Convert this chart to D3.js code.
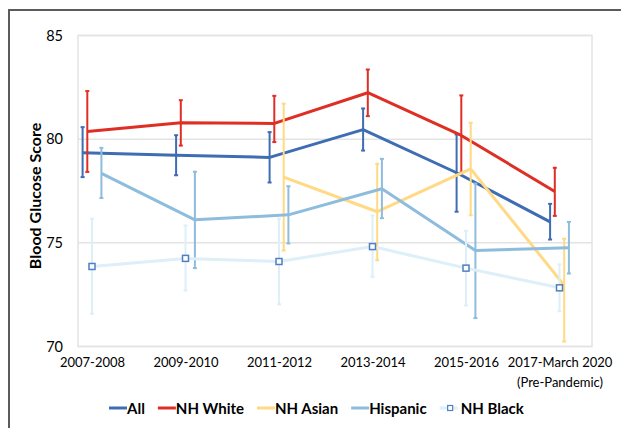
<!DOCTYPE html>
<html>
<head>
<meta charset="utf-8">
<script src="https://cdn.jsdelivr.net/npm/d3@7"></script>
<style>
  body { margin: 0; background: #fff; }
  text { font-family: Lato, "Open Sans", sans-serif; fill: #000; }
</style>
</head>
<body>
<div id="chart"></div>
<script>
// categories (second line of a label after "|")
var categories = ["2007-2008", "2009-2010", "2011-2012", "2013-2014", "2015-2016", "2017-March 2020|(Pre-Pandemic)"];
var yTicks = [70, 75, 80, 85];

// mean score and error-bar range per series
var allMean = [79.34, 79.23, 79.12, 80.46, 78.38, 76.01];
var allLow = [78.17, 78.26, 77.91, 79.45, 76.50, 75.16];
var allHigh = [80.58, 80.19, 80.34, 81.48, 80.23, 76.88];

var whiteMean = [80.37, 80.79, 80.76, 82.24, 80.18, 77.48];
var whiteLow = [78.42, 79.69, 79.86, 81.11, 78.38, 76.30];
var whiteHigh = [82.32, 81.88, 82.09, 83.36, 82.11, 78.62];

var asianMean = [null, null, 78.17, 76.50, 78.57, 72.95];
var asianLow = [null, null, 74.63, 74.16, 76.33, 70.24];
var asianHigh = [null, null, 81.71, 78.81, 80.79, 75.20];

var hispMean = [78.35, 76.11, 76.35, 77.61, 74.63, 74.76];
var hispLow = [77.16, 73.78, 74.97, 76.19, 71.37, 73.52];
var hispHigh = [79.58, 78.43, 77.73, 79.05, 77.86, 76.01];

var blackMean = [73.86, 74.25, 74.10, 74.82, 73.78, 72.83];
var blackLow = [71.58, 72.70, 72.03, 73.36, 71.98, 71.70];
var blackHigh = [76.16, 75.84, 76.17, 76.32, 75.58, 73.96];

var seriesNames = ["All", "NH White", "NH Asian", "Hispanic", "NH Black"];
// order the error bars sit side by side inside a category
var offsetOrder = ["All", "NH White", "NH Black", "NH Asian", "Hispanic"];

var series = [
    {name: "All", color: "#3e6db4", mean: allMean, low: allLow, high: allHigh},
    {name: "NH White", color: "#df2e24", mean: whiteMean, low: whiteLow, high: whiteHigh},
    {name: "NH Asian", color: "#ffd983", mean: asianMean, low: asianLow, high: asianHigh},
    {name: "Hispanic", color: "#8ebcdc", mean: hispMean, low: hispLow, high: hispHigh},
    {name: "NH Black", color: "#ddeff8", mean: blackMean, low: blackLow, high: blackHigh, marker: true}
];

var svgWidth = 621;
var svgHeight = 428;
var margin = {top: 35.5, left: 78};
var chartWidth = 514;
var chartHeight = 311;

var svg = d3.select("#chart").append("svg")
    .attr("width", svgWidth)
    .attr("height", svgHeight);

// outer frame (only the top and left edges show)
svg.append("rect")
    .attr("x", 9).attr("y", 10)
    .attr("width", 800).attr("height", 800)
    .attr("fill", "none")
    .attr("stroke", "#5b5b5b")
    .attr("stroke-width", 2);

var chartGroup = svg.append("g")
    .attr("transform", `translate(${margin.left}, ${margin.top})`);

var xScale = d3.scalePoint()
    .domain(categories)
    .range([14, 481.5]);

var offsetScale = d3.scalePoint()
    .domain(offsetOrder)
    .range([-9.4, 9.4]);

var yScale = d3.scaleLinear()
    .domain([70, 85])
    .range([chartHeight, 0]);

// gridlines
chartGroup.selectAll(".grid")
    .data(yTicks)
    .enter()
    .append("line")
    .attr("x1", 0).attr("x2", chartWidth)
    .attr("y1", d => yScale(d)).attr("y2", d => yScale(d))
    .attr("stroke", "#e3e3e3")
    .attr("stroke-width", 1.5);

// plot area border
chartGroup.append("rect")
    .attr("width", chartWidth).attr("height", chartHeight)
    .attr("fill", "none")
    .attr("stroke", "#e3e3e3")
    .attr("stroke-width", 1.5);

// y axis labels
var leftAxis = d3.axisLeft(yScale).tickValues(yTicks).tickSize(0).tickPadding(15);
var yAxisG = chartGroup.append("g").call(leftAxis);
yAxisG.select(".domain").remove();
yAxisG.selectAll("text")
    .style("font-family", "Lato, sans-serif")
    .style("font-size", "14.5px")
    .attr("fill", "#000");

// x axis labels, two lines for the last one
var bottomAxis = d3.axisBottom(xScale).tickSize(0).tickPadding(10).tickFormat("");
var xAxisG = chartGroup.append("g")
    .attr("transform", `translate(0, ${chartHeight})`)
    .call(bottomAxis);
xAxisG.select(".domain").remove();
xAxisG.selectAll(".tick").each(function(d) {
    var lines = d.split("|");
    var t = d3.select(this).append("text")
        .attr("text-anchor", "middle")
        .style("font-size", "13px")
        .attr("fill", "#000");
    lines.forEach(function(line, i) {
        t.append("tspan")
            .attr("x", 0)
            .attr("y", 20 + i * 20)
            .text(line);
    });
});

var line = d3.line()
    .defined(d => d.v != null)
    .x(d => d.x)
    .y(d => yScale(d.v));

series.forEach(function(s) {
    var pts = categories.map(function(c, i) {
        return {x: xScale(c) + offsetScale(s.name), v: s.mean[i], lo: s.low[i], hi: s.high[i]};
    }).filter(d => d.v != null);

    var g = chartGroup.append("g").attr("class", "series");

    g.append("path")
        .datum(pts)
        .attr("d", line)
        .attr("fill", "none")
        .attr("stroke", s.color)
        .attr("stroke-width", 3)
        .attr("stroke-linejoin", "round");

    // error bars
    g.selectAll(".err")
        .data(pts)
        .enter()
        .append("line")
        .attr("x1", d => d.x).attr("x2", d => d.x)
        .attr("y1", d => yScale(d.lo)).attr("y2", d => yScale(d.hi))
        .attr("stroke", s.color)
        .attr("stroke-width", 2);

    var caps = [];
    pts.forEach(d => { caps.push({x: d.x, v: d.lo}); caps.push({x: d.x, v: d.hi}); });
    g.selectAll(".cap")
        .data(caps)
        .enter()
        .append("line")
        .attr("x1", d => d.x - 2).attr("x2", d => d.x + 2)
        .attr("y1", d => yScale(d.v)).attr("y2", d => yScale(d.v))
        .attr("stroke", s.color)
        .attr("stroke-width", 2);

    if (s.marker) {
        g.selectAll(".marker")
            .data(pts)
            .enter()
            .append("rect")
            .attr("x", d => d.x - 3).attr("y", d => yScale(d.v) - 3)
            .attr("width", 6).attr("height", 6)
            .attr("fill", "#fff")
            .attr("stroke", "#4f7fc0")
            .attr("stroke-width", 1.5);
    }
});

// y axis title
svg.append("text")
    .attr("transform", "translate(41, 196) rotate(-90)")
    .attr("text-anchor", "middle")
    .style("font-size", "16px")
    .style("font-weight", "bold")
    .text("Blood Glucose Score");

// legend
var legend = svg.append("g").attr("transform", "translate(109, 408)");
var legendX = 0;
series.forEach(function(s) {
    var item = legend.append("g").attr("transform", `translate(${legendX}, 0)`);
    item.append("line")
        .attr("x1", 0).attr("x2", 18)
        .attr("stroke", s.color)
        .attr("stroke-width", 3);
    if (s.marker) {
        item.append("rect")
            .attr("x", 8).attr("y", -2.5)
            .attr("width", 5).attr("height", 5)
            .attr("fill", "#fff")
            .attr("stroke", "#4f7fc0")
            .attr("stroke-width", 1.2);
    }
    var label = item.append("text")
        .attr("x", s.marker ? 21 : 18)
        .attr("y", 5.5)
        .style("font-size", "15px")
        .style("font-weight", "bold")
        .text(s.name);
    legendX += (s.marker ? 21 : 18) + label.node().getComputedTextLength() + 13;
});
</script>
</body>
</html>
